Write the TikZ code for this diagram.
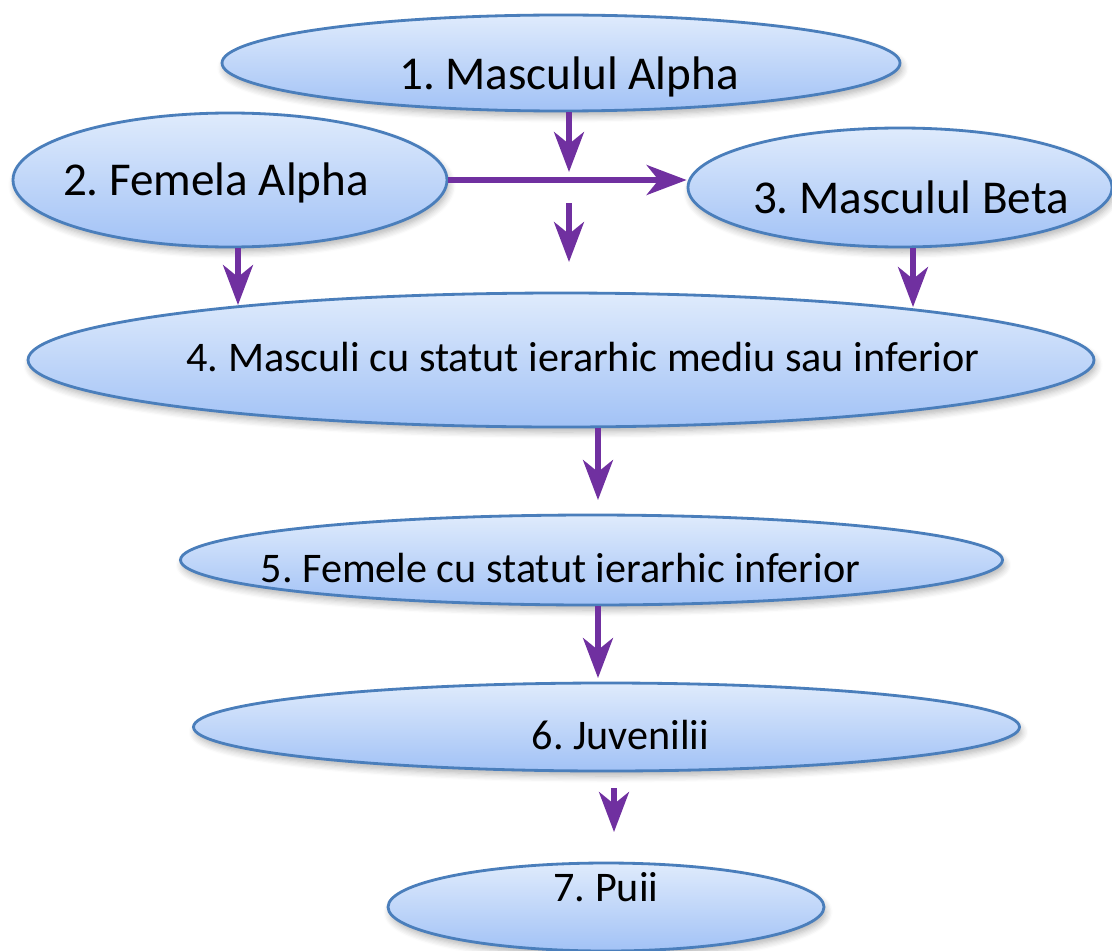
\documentclass[tikz,border=0pt]{standalone}
\usepackage{fontspec}
\setmainfont{Carlito}
\usepackage{tikz}
\usetikzlibrary{arrows.meta,positioning,shapes.geometric,shadows.blur,calc}
\definecolor{rimblue}{HTML}{4A7EBB}
\definecolor{topblue}{HTML}{DFEBFC}
\definecolor{lowblue}{HTML}{A2C2F6}
\definecolor{rankpurple}{HTML}{7030A0}
\frenchspacing

\begin{document}
\begin{tikzpicture}[
  rank/.style={ellipse, draw=rimblue, line width=0.8pt, top color=topblue, bottom color=lowblue, inner sep=0pt,
    blur shadow={shadow xshift=0.02cm, shadow yshift=-0.05cm, shadow opacity=30, shadow blur steps=6}},
  big/.style={font=\fontsize{13.4}{16}\selectfont},
  small/.style={font=\fontsize{12}{14.4}\selectfont},
  arrow/.style={-{Stealth[length=4mm, width=3mm, inset=1.2mm]}, line width=1.45pt, draw=rankpurple}
]
  \useasboundingbox (0,0) rectangle (11.12,-9.50);

  \node[rank, minimum width=6.78cm, minimum height=0.96cm, label={[big, xshift=0.08cm, yshift=-0.14cm]center:1. Masculul Alpha}] (alpha) at (5.61,-0.63) {};
  \node[rank, minimum width=4.34cm, minimum height=1.34cm, label={[big, xshift=-0.14cm, yshift=-0.03cm]center:2. Femela Alpha}] (femela) at (2.30,-1.80) {};
  \node[rank, minimum width=4.24cm, minimum height=1.19cm, label={[big, xshift=0.11cm, yshift=-0.10cm]center:3. Masculul Beta}] (beta) at (9.00,-1.875) {};
  \node[rank, minimum width=10.66cm, minimum height=1.34cm, label={[small, xshift=0.22cm, yshift=0.03cm]center:4. Masculi cu statut ierarhic mediu sau inferior}] (mediu) at (5.61,-3.60) {};
  \node[rank, minimum width=8.22cm, minimum height=0.90cm, label={[small, xshift=-0.31cm, yshift=-0.08cm]center:5. Femele cu statut ierarhic inferior}] (femele) at (5.915,-5.60) {};
  \node[rank, minimum width=8.26cm, minimum height=0.88cm, label={[small, xshift=0.14cm, yshift=-0.08cm]center:6. Juvenilii}] (juvenili) at (6.065,-7.27) {};
  \node[rank, minimum width=4.36cm, minimum height=0.88cm, label={[small, yshift=0.20cm]center:7. Puii}] (puii) at (6.06,-9.07) {};

  % arrow ends
  \coordinate (alphatip) at (5.69,-1.72);
  \coordinate (crossstart) at (5.69,-2.03);
  \coordinate (crosstip) at (5.69,-2.62);
  \coordinate (femelatip) at (2.38,-3.05);
  \coordinate (betatip) at (9.13,-3.07);
  \coordinate (mediutip) at (5.98,-5.00);
  \coordinate (femeletip) at (5.98,-6.78);
  \coordinate (juvstart) at (6.14,-7.88);
  \coordinate (juvtip) at (6.14,-8.32);

  \draw[arrow] (alpha.south -| alphatip) -- (alphatip);
  \draw[arrow] (femela.east) -- (femela.east -| beta.west);
  \draw[arrow] (crossstart) -- (crosstip);
  \draw[arrow] (femela.south -| femelatip) -- (femelatip);
  \draw[arrow] (beta.south -| betatip) -- (betatip);
  \draw[arrow] (mediu.south -| mediutip) -- (mediutip);
  \draw[arrow] (femele.south -| femeletip) -- (femeletip);
  \draw[arrow] (juvstart) -- (juvtip);
\end{tikzpicture}
\end{document}
